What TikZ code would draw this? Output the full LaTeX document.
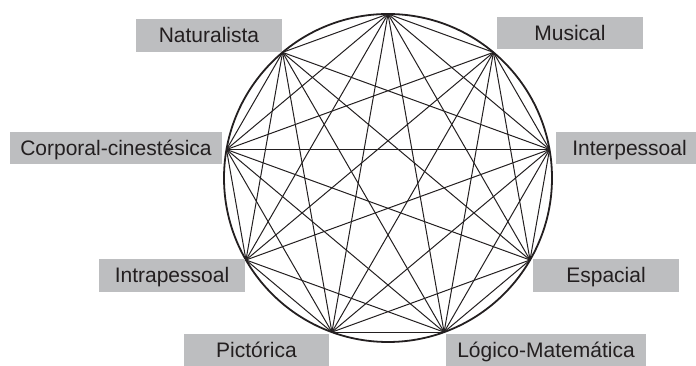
\documentclass[tikz,border=0pt]{standalone}
\usepackage{fontspec}
\setmainfont{Liberation Sans}
\usetikzlibrary{calc}
\definecolor{boxgray}{HTML}{BDBEC0}
\definecolor{ink}{HTML}{231F20}
\begin{document}
\begin{tikzpicture}[x=1pt,y=1pt,
  lbl/.style={fill=boxgray, text=ink, font=\fontsize{21}{24}\selectfont,
    minimum height=32.5pt, inner sep=0pt, text height=15pt, text depth=0pt},
  chord/.style={draw=ink, line width=1pt, line cap=round},
  rim/.style={draw=ink, line width=1.8pt}]
\useasboundingbox (0,0) rectangle (696,366);
\coordinate (c) at (388,188);
\foreach \k in {0,...,8}{
  \coordinate (v\k) at ($(c)+({90+40*\k}:164)$);
}
\draw[rim] (c) circle (164);
% all chords except Naturalista--Musical (v1-v8) and Intrapessoal--Espacial (v3-v6)
\foreach \i/\j in {0/1,0/2,0/3,0/4,0/5,0/6,0/7,0/8,
                   1/2,1/3,1/4,1/5,1/6,1/7,
                   2/3,2/4,2/5,2/6,2/7,2/8,
                   3/4,3/5,3/7,3/8,
                   4/5,4/6,4/7,4/8,
                   5/6,5/7,5/8,
                   6/7,6/8,
                   7/8}{
  \draw[chord] (v\i) -- (v\j);
}
\node[lbl, minimum width=146pt] (nat) at (209,330.5) {Naturalista};
\node[lbl, minimum width=146pt] (mus) at (570,333) {Musical};
\node[lbl, minimum width=212pt] (cor) at (116,218) {Corporal-cinestésica};
\node[lbl, minimum width=147pt] (inter) at (629.5,218) {Interpessoal};
\node[lbl, minimum width=146pt] (intra) at (172,90.5) {Intrapessoal};
\node[lbl, minimum width=146pt] (esp) at (606,90.5) {Espacial};
\node[lbl, minimum width=145pt] (pic) at (256.5,16) {Pictórica};
\node[lbl, minimum width=200pt] (log) at (546,16) {Lógico-Matemática};
\end{tikzpicture}
\end{document}
